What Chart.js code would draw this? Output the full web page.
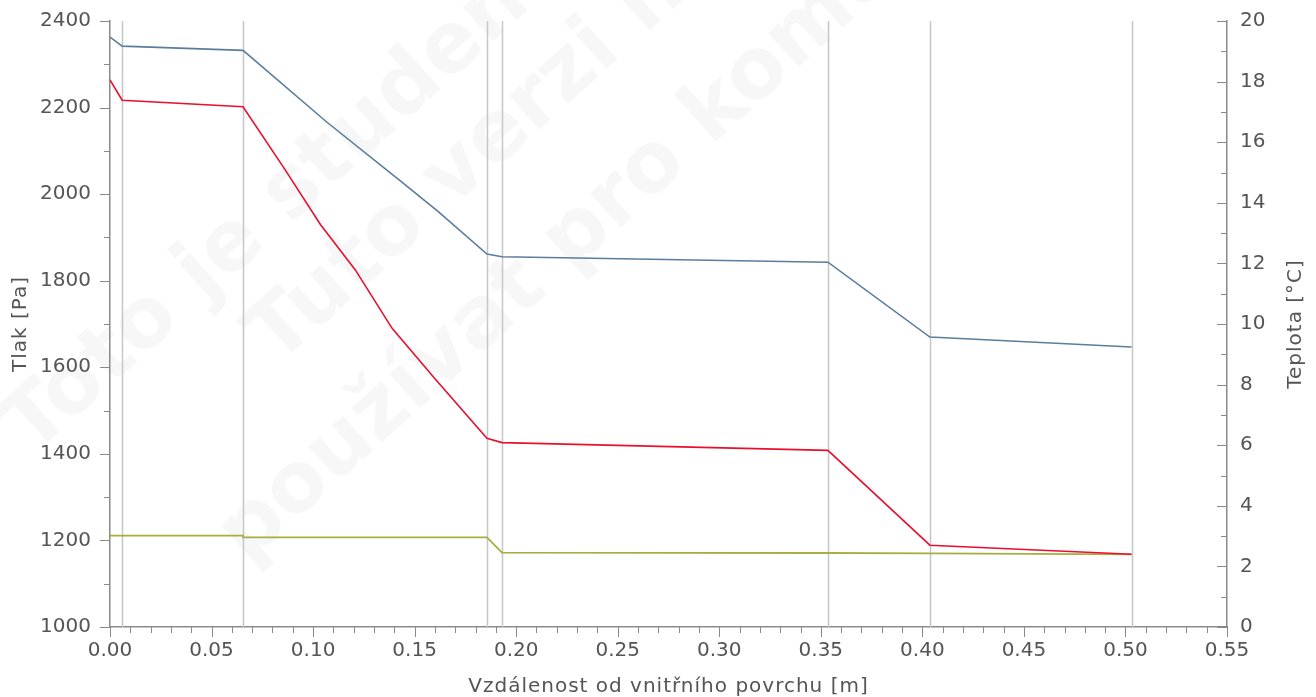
<!DOCTYPE html>
<html>
<head>
<meta charset="utf-8">
<script src="https://cdn.jsdelivr.net/npm/chart.js@4"></script>
<style>
  html, body { margin: 0; padding: 0; background: #fff; }
  #wrap { width: 1316px; height: 697px; position: relative; }
</style>
</head>
<body>
<div id="wrap"><canvas id="chart"></canvas></div>
<script>
// hranice vrstev [m]
const layerBounds = [0.006, 0.0655, 0.1856, 0.193, 0.3535, 0.4037, 0.503];

// teplota [°C] (pravá osa)
const tempX = [0, 0.006, 0.0655, 0.107, 0.1428, 0.1615, 0.1856, 0.193, 0.3535, 0.4037, 0.503];
const tempY = [19.47, 19.17, 19.03, 16.65, 14.73, 13.72, 12.31, 12.22, 12.04, 9.57, 9.24];

// tlak nasycených vodních par [Pa]
const satX = [0, 0.006, 0.0655, 0.0857, 0.1036, 0.1208, 0.1389, 0.1597, 0.1856, 0.193, 0.3535, 0.4037, 0.503];
const satY = [2264, 2217, 2202, 2060, 1930, 1825, 1690, 1575, 1436, 1426, 1408, 1189, 1168];

// částečný tlak vodní páry [Pa]
const vapX = [0, 0.006, 0.0655, 0.0655, 0.1856, 0.193, 0.3535, 0.4037, 0.503];
const vapY = [1211, 1211, 1211, 1207, 1207, 1172, 1171, 1170, 1168];

// osy
const xMin = 0, xMax = 0.55, xStep = 0.05, xMinor = 0.01;
const pMin = 1000, pMax = 2400, pStep = 200, pMinor = 100;
const tMin = 0, tMax = 20, tStep = 2, tMinor = 1;

const xTitle = 'Vzdálenost od vnitřního povrchu [m]';
const pTitle = 'Tlak [Pa]';
const tTitle = 'Teplota [°C]';

const watermark = ["Toto je studentská verze.", "Tuto verzi nelze", "používat pro komerční účely."];

const axisColor = '#8a8a8a';
const textColor = '#555555';
const tickFont = { family: 'DejaVu Sans', size: 20 };

function pts(xs, ys) {
  return xs.map((x, i) => ({ x: x, y: ys[i] }));
}

// pevné rozměry os, bez přídavných okrajů pro popisky
function fixScale(size) {
  return function(scale) {
    if (scale.isHorizontal()) scale.height = size; else scale.width = size;
    scale.paddingTop = 0;
    scale.paddingBottom = 0;
    scale.paddingLeft = 0;
    scale.paddingRight = 0;
  };
}

Chart.defaults.font.family = 'DejaVu Sans';

// vodoznak, svislé čáry vrstev, rysky a popisy os
const decorPlugin = {
  id: 'decor',
  beforeDraw(chart) {
    const ctx = chart.ctx;
    ctx.save();
    ctx.fillStyle = 'rgba(0,0,0,0.03)';
    ctx.font = 'bold 84px "DejaVu Sans"';
    ctx.textBaseline = 'middle';
    const starts = [[18, 440], [262, 350], [232, 548]];
    watermark.forEach((t, i) => {
      ctx.save();
      ctx.translate(starts[i][0], starts[i][1]);
      ctx.rotate(-42 * Math.PI / 180);
      ctx.fillText(t, 0, 0);
      ctx.restore();
    });
    ctx.restore();
  },
  beforeDatasetsDraw(chart) {
    const ctx = chart.ctx;
    const xs = chart.scales.x;
    const area = chart.chartArea;
    ctx.save();
    ctx.strokeStyle = '#c6c6c6';
    ctx.lineWidth = 1.5;
    layerBounds.forEach(b => {
      const px = Math.round(xs.getPixelForValue(b)) + 0.5;
      ctx.beginPath();
      ctx.moveTo(px, area.top);
      ctx.lineTo(px, area.bottom);
      ctx.stroke();
    });
    ctx.restore();
  },
  afterDraw(chart) {
    const ctx = chart.ctx;
    const xs = chart.scales.x, yl = chart.scales.y, yr = chart.scales.y1;
    const area = chart.chartArea;
    ctx.save();
    ctx.strokeStyle = axisColor;
    ctx.lineWidth = 1;
    // x rysky
    const nx = Math.round((xMax - xMin) / xMinor);
    for (let i = 0; i <= nx; i++) {
      const v = xMin + i * xMinor;
      const len = (i % Math.round(xStep / xMinor) === 0) ? 10 : 6;
      const px = Math.round(xs.getPixelForValue(v)) + 0.5;
      ctx.beginPath();
      ctx.moveTo(px, area.bottom);
      ctx.lineTo(px, area.bottom + len);
      ctx.stroke();
    }
    // levá osa
    const np = Math.round((pMax - pMin) / pMinor);
    for (let i = 0; i <= np; i++) {
      const v = pMin + i * pMinor;
      const len = (i % Math.round(pStep / pMinor) === 0) ? 10 : 6;
      const py = Math.round(yl.getPixelForValue(v)) + 0.5;
      ctx.beginPath();
      ctx.moveTo(area.left, py);
      ctx.lineTo(area.left - len, py);
      ctx.stroke();
    }
    // pravá osa (ryska dovnitř)
    const nt = Math.round((tMax - tMin) / tMinor);
    for (let i = 0; i <= nt; i++) {
      const v = tMin + i * tMinor;
      const len = (i % Math.round(tStep / tMinor) === 0) ? 10 : 6;
      const py = Math.round(yr.getPixelForValue(v)) + 0.5;
      ctx.beginPath();
      ctx.moveTo(area.right, py);
      ctx.lineTo(area.right - len, py);
      ctx.stroke();
    }

    // popisy os (s mírným prostrkáním, obě svislé čtené zdola nahoru)
    const midY = (area.top + area.bottom) / 2;
    ctx.fillStyle = textColor;
    ctx.font = '20px "DejaVu Sans"';
    ctx.letterSpacing = '1px';
    ctx.textAlign = 'center';
    ctx.textBaseline = 'middle';
    ctx.fillText(xTitle, (area.left + area.right) / 2, 687);
    [[21, pTitle], [1296, tTitle]].forEach(([x, t]) => {
      ctx.save();
      ctx.translate(x, midY);
      ctx.rotate(-Math.PI / 2);
      ctx.fillText(t, 0, 0);
      ctx.restore();
    });
    ctx.restore();
  }
};

const ctx = document.getElementById('chart').getContext('2d');
new Chart(ctx, {
  type: 'line',
  data: {
    datasets: [
      {
        label: 'Teplota',
        data: pts(tempX, tempY),
        borderColor: '#5b7d9c',
        borderWidth: 1.6,
        yAxisID: 'y1'
      },
      {
        label: 'Tlak nasycených par',
        data: pts(satX, satY),
        borderColor: '#e8102e',
        borderWidth: 1.6,
        yAxisID: 'y'
      },
      {
        label: 'Částečný tlak páry',
        data: pts(vapX, vapY),
        borderColor: '#a5ae42',
        borderWidth: 1.8,
        yAxisID: 'y'
      }
    ]
  },
  options: {
    responsive: true,
    maintainAspectRatio: false,
    animation: false,
    events: [],
    elements: { point: { radius: 0 }, line: { tension: 0, fill: false } },
    layout: { padding: { top: 21, left: 0, right: 0, bottom: 0 } },
    plugins: { legend: { display: false }, tooltip: { enabled: false } },
    scales: {
      x: {
        type: 'linear',
        min: xMin,
        max: xMax,
        grid: { display: false, drawTicks: false },
        border: { color: axisColor, width: 1.5 },
        ticks: {
          stepSize: xStep,
          autoSkip: false,
          maxRotation: 0,
          padding: 12,
          font: tickFont,
          color: textColor,
          callback: v => v.toFixed(2)
        },
        afterFit: fixScale(70)
      },
      y: {
        type: 'linear',
        position: 'left',
        min: pMin,
        max: pMax,
        grid: { display: false, drawTicks: false },
        border: { color: axisColor, width: 1.5 },
        ticks: { stepSize: pStep, padding: 19, font: tickFont, color: textColor, callback: v => String(v) },
        afterFit: fixScale(110)
      },
      y1: {
        type: 'linear',
        position: 'right',
        min: tMin,
        max: tMax,
        grid: { display: false, drawTicks: false },
        border: { color: axisColor, width: 1.5 },
        ticks: { stepSize: tStep, padding: 13, font: tickFont, color: textColor, callback: v => String(v) },
        afterFit: fixScale(89)
      }
    }
  },
  plugins: [decorPlugin]
});
</script>
</body>
</html>
